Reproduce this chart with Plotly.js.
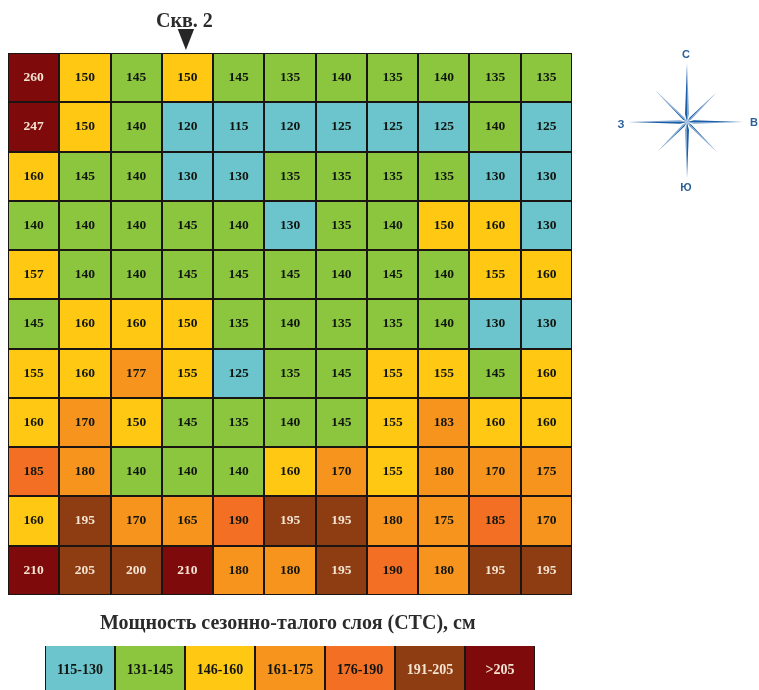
<!DOCTYPE html>
<html><head><meta charset="utf-8">
<script src="https://cdn.plot.ly/plotly-3.0.1.min.js"></script>
<style>html,body{margin:0;padding:0;background:#fff;overflow:hidden}#c{width:759px;height:690px;filter:blur(0.4px)}</style>
</head><body><div id="c"></div>
<script>
const values = [
 [260,150,145,150,145,135,140,135,140,135,135],
 [247,150,140,120,115,120,125,125,125,140,125],
 [160,145,140,130,130,135,135,135,135,130,130],
 [140,140,140,145,140,130,135,140,150,160,130],
 [157,140,140,145,145,145,140,145,140,155,160],
 [145,160,160,150,135,140,135,135,140,130,130],
 [155,160,177,155,125,135,145,155,155,145,160],
 [160,170,150,145,135,140,145,155,183,160,160],
 [185,180,140,140,140,160,170,155,180,170,175],
 [160,195,170,165,190,195,195,180,175,185,170],
 [210,205,200,210,180,180,195,190,180,195,195]
];
// Colour class of every cell as painted in the picture (0 = first legend class ... 6 = last)
const classes = [
 [6,2,1,2,1,1,1,1,1,1,1],
 [6,2,1,0,0,0,0,0,0,1,0],
 [2,1,1,0,0,1,1,1,1,0,0],
 [1,1,1,1,1,0,1,1,2,2,0],
 [2,1,1,1,1,1,1,1,1,2,2],
 [1,2,2,2,1,1,1,1,1,0,0],
 [2,2,3,2,0,1,1,2,2,1,2],
 [2,3,2,1,1,1,1,2,3,2,2],
 [4,3,1,1,1,2,3,2,3,3,3],
 [2,5,3,3,4,5,5,3,3,4,3],
 [6,5,5,6,3,3,5,4,3,5,5]
];
const legendLabels = ['115-130','131-145','146-160','161-175','176-190','191-205','>205'];
const classColors = ['#6cc4cc','#8cc63f','#ffc813','#f7941e','#f26f23','#8e3d12','#7f0a0c'];
const darkText = '#101510', lightText = '#f3e4d2';
const titleText = 'Мощность сезонно-талого слоя (СТС), см';
const wellText = 'Скв. 2';
const wellPointerX = [2.81,3.13,2.97,2.81];
const wellPointerY = [0.96,0.96,0.08,0.96];
const rayAngles = [90,270,0,180,45,135,225,315];
const rayLengths = [59,56,56,59,41,45,42,43];
const rayWidths = [3.6,3.6,3.2,3.2,2.3,2.3,2.3,2.3];
const compassLabels = ['С','Ю','З','В'];
const compassLabelX = [-1,-1,-66,67];
const compassLabelY = [67,-66,-3,-1];

const W = 759, H = 690;
const serif = 'Liberation Serif, Times New Roman, serif';
const scale = classColors.flatMap((c,i)=>[[i/7,c],[(i+1)/7,c]]);
const textColorOf = k => k >= 5 ? lightText : darkText;
const idx = values[0].map((_,i)=>i);

const traces = [];
traces.push({type:'heatmap',z:classes,x:idx,y:values.map((_,i)=>i),zmin:0,zmax:7,colorscale:scale,showscale:false,
  xgap:2,ygap:2,hoverinfo:'skip',xaxis:'x',yaxis:'y'});
const tx=[],ty=[],tt=[],tc=[];
values.forEach((r,j)=>r.forEach((v,i)=>{tx.push(i);ty.push(j);tt.push(String(v));tc.push(textColorOf(classes[j][i]));}));
traces.push({type:'scatter',mode:'text',x:tx,y:ty,text:tt,textposition:'middle center',
  textfont:{family:serif,size:13.5,color:tc,weight:700},hoverinfo:'skip',xaxis:'x',yaxis:'y'});
traces.push({type:'scatter',mode:'lines',x:wellPointerX,y:wellPointerY,fill:'toself',fillcolor:'#262626',
  line:{width:0,color:'#262626'},hoverinfo:'skip',xaxis:'x4',yaxis:'y4'});

const li = legendLabels.map((_,i)=>i);
traces.push({type:'heatmap',z:[li],x:li,y:[0],zmin:0,zmax:7,colorscale:scale,showscale:false,xgap:2,ygap:0,
  hoverinfo:'skip',xaxis:'x2',yaxis:'y2'});
traces.push({type:'scatter',mode:'text',x:li,y:li.map(()=>0),text:legendLabels,textposition:'middle center',
  textfont:{family:serif,size:14,color:li.map(textColorOf),weight:700},hoverinfo:'skip',xaxis:'x2',yaxis:'y2'});

rayAngles.forEach((deg,k)=>{
  const a=deg*Math.PI/180, L=rayLengths[k], w=rayWidths[k];
  const ux=Math.cos(a),uy=Math.sin(a),nx=-uy,ny=ux;
  const mid=[w*ux*2.2,w*uy*2.2];
  const left=[mid[0]+nx*w*0.55,mid[1]+ny*w*0.55], right=[mid[0]-nx*w*0.55,mid[1]-ny*w*0.55];
  const tip=[L*ux,L*uy];
  [[left,'#1d5ea8'],[right,'#7da5d0']].forEach(([p,col])=>{
    traces.push({type:'scatter',mode:'lines',x:[0,p[0],tip[0],0],y:[0,p[1],tip[1],0],fill:'toself',fillcolor:col,
      line:{width:0,color:col},hoverinfo:'skip',xaxis:'x3',yaxis:'y3'});
  });
});
traces.push({type:'scatter',mode:'text',x:compassLabelX,y:compassLabelY,text:compassLabels,textposition:'middle center',
  textfont:{family:'Liberation Sans, Arial, sans-serif',size:11,color:'#2a6098',weight:700},hoverinfo:'skip',xaxis:'x3',yaxis:'y3'});

const hidden = extra => Object.assign({visible:false,fixedrange:true},extra);
const backing = (xr,yr)=>({type:'rect',layer:'below',xref:xr+' domain',yref:yr+' domain',x0:0,x1:1,y0:0,y1:1,
  fillcolor:'#1a1512',line:{width:0}});
const layout = {
  width:W,height:H,margin:{l:0,r:0,t:0,b:0},paper_bgcolor:'#fff',plot_bgcolor:'rgba(0,0,0,0)',showlegend:false,
  xaxis:hidden({domain:[8/W,572/W],range:[-0.5,10.5]}),
  yaxis:hidden({domain:[(H-595)/H,(H-53)/H],range:[10.5,-0.5]}),
  xaxis2:hidden({domain:[45/W,535/W],range:[-0.5,6.5],anchor:'y2'}),
  yaxis2:hidden({domain:[0,44/H],range:[0.4167,-0.5],anchor:'x2'}),
  xaxis3:hidden({domain:[610/W,1],range:[-77,72],anchor:'y3'}),
  yaxis3:hidden({domain:[(H-200)/H,(H-40)/H],range:[-78,82],anchor:'x3'}),
  xaxis4:hidden({domain:[8/W,572/W],range:[-0.5,10.5],anchor:'y4'}),
  yaxis4:hidden({domain:[(H-52)/H,(H-28)/H],range:[0,1],anchor:'x4'}),
  shapes:[backing('x','y'),backing('x2','y2')],
  annotations:[
    {text:'<b>'+titleText+'</b>',xref:'paper',yref:'paper',x:287.5/W,y:(H-622)/H,showarrow:false,xanchor:'center',yanchor:'middle',
     font:{family:serif,size:20,color:'#2b2b2b'}},
    {text:'<b>'+wellText+'</b>',xref:'paper',yref:'paper',x:184/W,y:(H-20)/H,showarrow:false,xanchor:'center',yanchor:'middle',
     font:{family:serif,size:20,color:'#2b2b2b'}}
  ]
};
Plotly.newPlot('c',traces,layout,{staticPlot:true,displayModeBar:false});
</script></body></html>
